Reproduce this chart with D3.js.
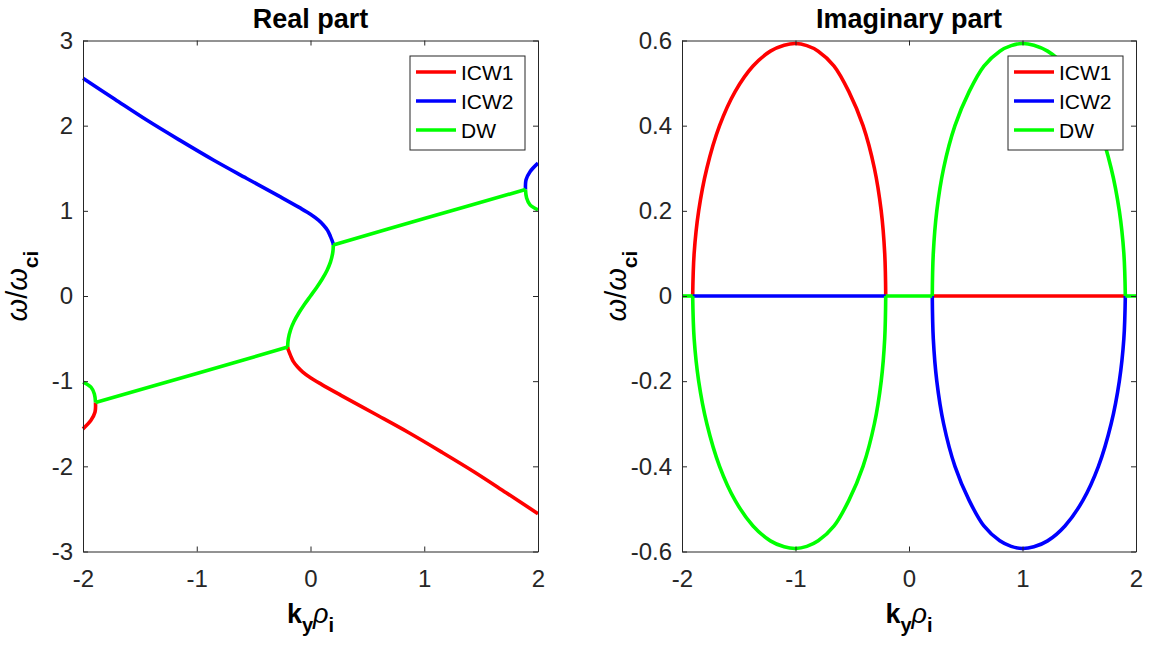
<!DOCTYPE html>
<html lang="en">
<head>
  <meta charset="UTF-8">
  <title>dispersion</title>
  <script src="https://d3js.org/d3.v7.min.js"></script>
  <style>
    body { margin: 0; background: #fff; }
    svg text { font-family: "Liberation Sans", Arial, Helvetica, sans-serif; }
  </style>
</head>
<body>
  <svg id="fig" width="1151" height="645"></svg>

  <script>
    // ---------------- data ----------------
    const xTicks = [-2, -1, 0, 1, 2];
    const realTicks = [-3, -2, -1, 0, 1, 2, 3];
    const imagTicks = [-0.6, -0.4, -0.2, 0, 0.2, 0.4, 0.6];
    const legendNames = ["ICW1", "ICW2", "DW"];
    const legendColors = ["#ff0000", "#0000ff", "#00ff00"];

    // real part, [k, omega]
    const icw1Real = [[-0.2, -0.6], [-0.198, -0.62], [-0.19, -0.65], [-0.175, -0.7], [-0.15, -0.77], [-0.113, -0.834],
      [-0.07, -0.89], [0, -0.96], [0.1, -1.04], [0.268, -1.166], [0.56, -1.38], [0.854, -1.597],
      [1.15, -1.83], [1.44, -2.066], [1.72, -2.31], [2, -2.556]];
    const icw1RealEdge = [[-1.89, -1.25], [-1.895, -1.365], [-1.93, -1.46], [-2, -1.56]];
    const icw2Real = [[-2, 2.556], [-1.72, 2.31], [-1.44, 2.066], [-1.15, 1.83], [-0.854, 1.597], [-0.56, 1.38],
      [-0.268, 1.166], [-0.1, 1.04], [0, 0.96], [0.07, 0.89], [0.113, 0.834], [0.15, 0.77], [0.175, 0.7],
      [0.19, 0.65], [0.198, 0.62], [0.2, 0.6]];
    const icw2RealEdge = [[1.89, 1.25], [1.895, 1.365], [1.93, 1.46], [2, 1.56]];
    const dwRealMid = [[-0.2, -0.6], [-0.199, -0.55], [-0.1945, -0.5], [-0.176, -0.4], [-0.145, -0.3], [-0.103, -0.2],
      [-0.054, -0.1], [0, 0], [0.054, 0.1], [0.103, 0.2], [0.145, 0.3], [0.176, 0.4], [0.1945, 0.5],
      [0.199, 0.55], [0.2, 0.6]];
    const dwRealLow = [[-1.89, -1.25], [-1.0, -0.91], [-0.2, -0.6]];
    const dwRealUp = [[0.2, 0.6], [1.0, 0.91], [1.89, 1.25]];
    const dwRealEdgeL = [[-1.89, -1.25], [-1.9, -1.15], [-1.93, -1.07], [-2, -1.01]];
    const dwRealEdgeR = [[1.89, 1.25], [1.9, 1.15], [1.93, 1.07], [2, 1.01]];

    // imaginary part, [k, gamma]
    const icw1Imag = [[-1.906, 0], [-1.893, 0.1], [-1.853, 0.2], [-1.781, 0.3], [-1.669, 0.4], [-1.532, 0.48],
      [-1.374, 0.54], [-1.221, 0.575], [-1.1, 0.589], [-1.0, 0.593], [-0.9, 0.588], [-0.8, 0.575],
      [-0.66, 0.54], [-0.53, 0.48], [-0.405, 0.4], [-0.305, 0.3], [-0.245, 0.2], [-0.214, 0.1], [-0.205, 0]];
    const icw1ImagZero = [[0.205, 0], [1.906, 0]];
    const icw2Imag = [[0.205, 0], [0.214, -0.1], [0.245, -0.2], [0.305, -0.3], [0.405, -0.4], [0.53, -0.48],
      [0.66, -0.54], [0.8, -0.575], [0.9, -0.588], [1.0, -0.593], [1.1, -0.589], [1.221, -0.575],
      [1.374, -0.54], [1.532, -0.48], [1.669, -0.4], [1.781, -0.3], [1.853, -0.2], [1.893, -0.1], [1.906, 0]];
    const icw2ImagZero = [[-1.906, 0], [-0.205, 0]];
    const dwImagLow = [[-1.906, 0], [-1.893, -0.1], [-1.853, -0.2], [-1.781, -0.3], [-1.669, -0.4], [-1.532, -0.48],
      [-1.374, -0.54], [-1.221, -0.575], [-1.1, -0.589], [-1.0, -0.593], [-0.9, -0.588], [-0.8, -0.575],
      [-0.66, -0.54], [-0.53, -0.48], [-0.405, -0.4], [-0.305, -0.3], [-0.245, -0.2], [-0.214, -0.1], [-0.205, 0]];
    const dwImagUp = [[0.205, 0], [0.214, 0.1], [0.245, 0.2], [0.305, 0.3], [0.405, 0.4], [0.53, 0.48],
      [0.66, 0.54], [0.8, 0.575], [0.9, 0.588], [1.0, 0.593], [1.1, 0.589], [1.221, 0.575],
      [1.374, 0.54], [1.532, 0.48], [1.669, 0.4], [1.781, 0.3], [1.853, 0.2], [1.893, 0.1], [1.906, 0]];
    const dwImagZeroL = [[-2, 0], [-1.906, 0]];
    const dwImagZeroM = [[-0.205, 0], [0.205, 0]];
    const dwImagZeroR = [[1.906, 0], [2, 0]];

    // ---------------- drawing ----------------
    const svg = d3.select("#fig");
    const axColor = "#262626";
    const plotTop = 40.5, plotBottom = 551.5;

    function drawPanel(opts) {
      const x = d3.scaleLinear().domain([-2, 2]).range([opts.left, opts.right]);
      const y = d3.scaleLinear().domain(opts.yDomain).range([plotBottom, plotTop]);
      const g = svg.append("g");

      const line = d3.line().x(d => x(d[0])).y(d => y(d[1])).curve(d3.curveCatmullRom.alpha(0.5));

      opts.series.forEach(s => {
        g.append("path")
          .attr("d", line(s.pts))
          .attr("fill", "none")
          .attr("stroke", s.color)
          .attr("stroke-width", 3.6)
          .attr("stroke-linejoin", "round");
      });

      // axes with inward ticks, box on
      const fmt = d => String(d);
      const bAxis = d3.axisBottom(x).tickValues(xTicks).tickFormat(fmt).tickSizeInner(-5).tickSizeOuter(0).tickPadding(18);
      const tAxis = d3.axisTop(x).tickValues(xTicks).tickFormat("").tickSizeInner(-5).tickSizeOuter(0);
      const lAxis = d3.axisLeft(y).tickValues(opts.yTicks).tickFormat(fmt).tickSizeInner(-5).tickSizeOuter(0).tickPadding(10);
      const rAxis = d3.axisRight(y).tickValues(opts.yTicks).tickFormat("").tickSizeInner(-5).tickSizeOuter(0);

      const axes = [
        g.append("g").attr("transform", `translate(0,${plotBottom})`).call(bAxis),
        g.append("g").attr("transform", `translate(0,${plotTop})`).call(tAxis),
        g.append("g").attr("transform", `translate(${opts.left},0)`).call(lAxis),
        g.append("g").attr("transform", `translate(${opts.right},0)`).call(rAxis)
      ];
      axes.forEach(a => {
        a.selectAll("path, line").attr("stroke", axColor).attr("stroke-width", 1);
        a.selectAll("text").attr("fill", axColor).style("font-size", "24px");
      });

      // title
      svg.append("text")
        .attr("x", (opts.left + opts.right) / 2).attr("y", 28)
        .attr("text-anchor", "middle")
        .style("font-size", "27px").style("font-weight", "bold")
        .attr("fill", "#000")
        .text(opts.title);

      // x label  k_y rho_i
      const xl = svg.append("text")
        .attr("x", (opts.left + opts.right) / 2).attr("y", 623)
        .attr("text-anchor", "middle")
        .attr("fill", "#000")
        .style("font-size", "27px");
      xl.append("tspan").style("font-weight", "bold").text("k");
      xl.append("tspan").style("font-weight", "bold").style("font-size", "20px").attr("dy", 9).text("y");
      xl.append("tspan").style("font-style", "italic").attr("dy", -9).text("ρ");
      xl.append("tspan").style("font-weight", "bold").style("font-size", "20px").attr("dy", 9).text("i");

      // y label  omega / omega_ci
      const yl = svg.append("text")
        .attr("transform", `translate(${opts.left - 56},${(plotTop + plotBottom) / 2 - 10}) rotate(-90)`)
        .attr("text-anchor", "middle")
        .attr("fill", "#000")
        .style("font-size", "29px");
      yl.append("tspan").style("font-style", "italic").text("ω");
      yl.append("tspan").text("/");
      yl.append("tspan").style("font-style", "italic").text("ω");
      yl.append("tspan").style("font-weight", "bold").style("font-size", "21px").attr("dy", 11).text("ci");

      // legend
      const lw = 115, lh = 94;
      const lx = opts.right - 13 - lw, ly = 56;
      const lg = svg.append("g").attr("transform", `translate(${lx},${ly})`);
      lg.append("rect")
        .attr("width", lw).attr("height", lh)
        .attr("fill", "#fff").attr("stroke", axColor).attr("stroke-width", 1);
      legendNames.forEach((name, i) => {
        const yy = 16 + i * 29;
        lg.append("line")
          .attr("x1", 6).attr("x2", 46).attr("y1", yy).attr("y2", yy)
          .attr("stroke", legendColors[i]).attr("stroke-width", 3.6);
        lg.append("text")
          .attr("x", 51).attr("y", yy).attr("dy", "0.36em")
          .attr("fill", "#000")
          .style("font-size", "21px")
          .text(name);
      });
    }

    const red = legendColors[0], blue = legendColors[1], green = legendColors[2];

    drawPanel({
      left: 83, right: 538,
      yDomain: [-3, 3], yTicks: realTicks,
      title: "Real part",
      series: [
        { pts: icw1Real, color: red }, { pts: icw1RealEdge, color: red },
        { pts: icw2Real, color: blue }, { pts: icw2RealEdge, color: blue },
        { pts: dwRealMid, color: green }, { pts: dwRealLow, color: green }, { pts: dwRealUp, color: green },
        { pts: dwRealEdgeL, color: green }, { pts: dwRealEdgeR, color: green }
      ]
    });

    drawPanel({
      left: 682, right: 1136,
      yDomain: [-0.6, 0.6], yTicks: imagTicks,
      title: "Imaginary part",
      series: [
        { pts: icw1Imag, color: red }, { pts: icw1ImagZero, color: red },
        { pts: icw2Imag, color: blue }, { pts: icw2ImagZero, color: blue },
        { pts: dwImagLow, color: green }, { pts: dwImagUp, color: green },
        { pts: dwImagZeroL, color: green }, { pts: dwImagZeroM, color: green }, { pts: dwImagZeroR, color: green }
      ]
    });
  </script>
</body>
</html>
